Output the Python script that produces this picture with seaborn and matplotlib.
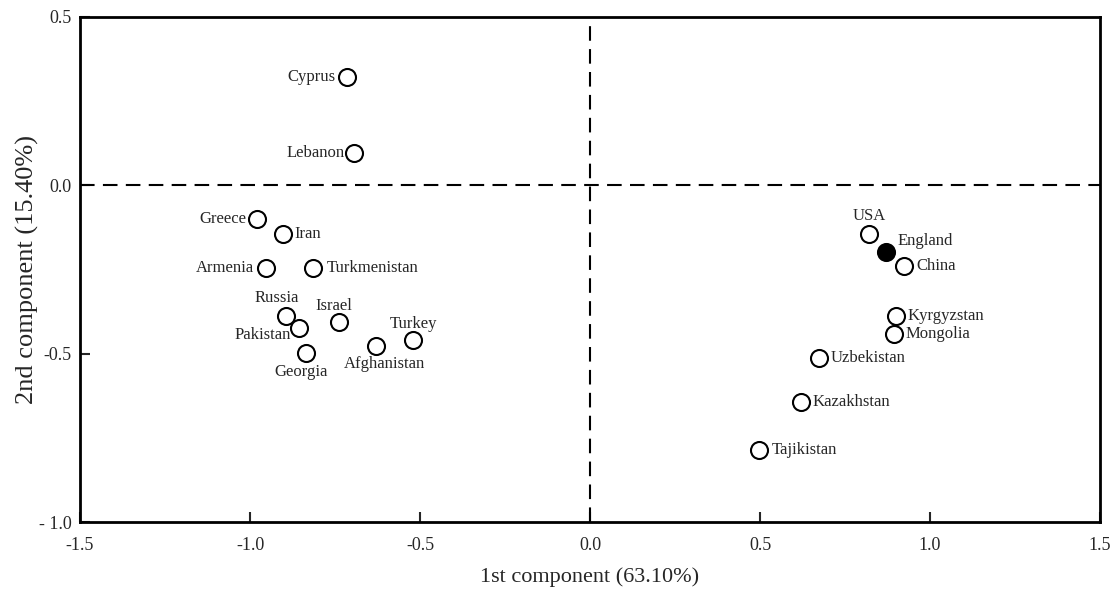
import matplotlib
matplotlib.use("Agg")
import matplotlib.pyplot as plt
import seaborn as sns
import pandas as pd

countries = ["Cyprus", "Lebanon", "Greece", "Iran", "Armenia", "Turkmenistan",
             "Russia", "Pakistan", "Israel", "Georgia", "Afghanistan", "Turkey",
             "USA", "England", "China", "Kyrgyzstan", "Mongolia", "Uzbekistan",
             "Kazakhstan", "Tajikistan"]
pc1 = [-0.715, -0.694, -0.979, -0.903, -0.953, -0.815,
       -0.894, -0.856, -0.738, -0.835, -0.629, -0.521,
       0.821, 0.871, 0.924, 0.900, 0.894, 0.674,
       0.621, 0.497]
pc2 = [0.321, 0.095, -0.101, -0.146, -0.247, -0.247,
       -0.389, -0.425, -0.407, -0.499, -0.478, -0.460,
       -0.146, -0.199, -0.241, -0.389, -0.443, -0.514,
       -0.644, -0.787]
reference = ["England"]

x_ticks = [-1.5, -1.0, -0.5, 0.0, 0.5, 1.0, 1.5]
y_ticks = [0.5, 0.0, -0.5, -1.0]
y_tick_labels = ["0.5", "0.0", "-0.5", "- 1.0"]

# label placement: (dx, dy) in points, horizontal alignment
label_pos = {
    "Cyprus": (-8, 0, "right"), "Lebanon": (-7, 0, "right"),
    "Greece": (-8, 0, "right"), "Iran": (8.5, 0, "left"),
    "Armenia": (-8.5, 0, "right"), "Turkmenistan": (10, 0, "left"),
    "Russia": (-7, 13.5, "center"), "Pakistan": (-6, -5, "right"),
    "Israel": (-4, 11.5, "center"), "Georgia": (-3.5, -13.5, "center"),
    "Afghanistan": (6, -12.5, "center"), "Turkey": (0.5, 12, "center"),
    "USA": (0, 13, "center"), "England": (8, 8, "left"),
    "China": (8.5, 0, "left"), "Kyrgyzstan": (8, 0, "left"),
    "Mongolia": (8.5, 0, "left"), "Uzbekistan": (8.5, 0, "left"),
    "Kazakhstan": (8, 0, "left"), "Tajikistan": (9.5, 0, "left"),
}

df = pd.DataFrame({"country": countries, "pc1": pc1, "pc2": pc2})
df["ref"] = df["country"].isin(reference)

sns.set_style("white")
plt.rcParams["font.family"] = ["Liberation Serif", "DejaVu Serif"]

fig = plt.figure(figsize=(11.16, 5.94), dpi=100)
ax = fig.add_axes([0.0717, 0.1212, 0.914, 0.8502])

ax.axhline(0, color="black", lw=1.5, ls=(0, (7, 4)), zorder=1)
ax.axvline(0, color="black", lw=1.5, ls=(0, (7, 4)), zorder=1)

sns.scatterplot(data=df[~df["ref"]], x="pc1", y="pc2", ax=ax, s=150,
                facecolor="white", edgecolor="black", linewidth=1.5, zorder=3)
sns.scatterplot(data=df[df["ref"]], x="pc1", y="pc2", ax=ax, s=150,
                color="black", edgecolor="black", linewidth=1.5, zorder=3)

for _, row in df.iterrows():
    dx, dy, ha = label_pos[row["country"]]
    ax.annotate(row["country"], (row["pc1"], row["pc2"]), xytext=(dx, dy),
                textcoords="offset points", ha=ha, va="center", fontsize=12)

ax.set_xlim(-1.5, 1.5)
ax.set_ylim(-1.0, 0.5)
ax.set_xticks(x_ticks)
ax.set_xticklabels([f"{t:.1f}" for t in x_ticks])
ax.set_yticks(y_ticks)
ax.set_yticklabels(y_tick_labels)
ax.tick_params(axis="both", direction="in", length=7, width=1.5,
               labelsize=13, top=False, right=False, bottom=True, left=True)
ax.tick_params(axis="x", pad=11)
ax.tick_params(axis="y", pad=6)
for sp in ax.spines.values():
    sp.set_color("black")
    sp.set_linewidth(2)

ax.set_xlabel("1st component (63.10%)", fontsize=16, labelpad=9)
ax.set_ylabel("2nd component (15.40%)", fontsize=19, labelpad=0)

fig.savefig("out.png", dpi=100)
